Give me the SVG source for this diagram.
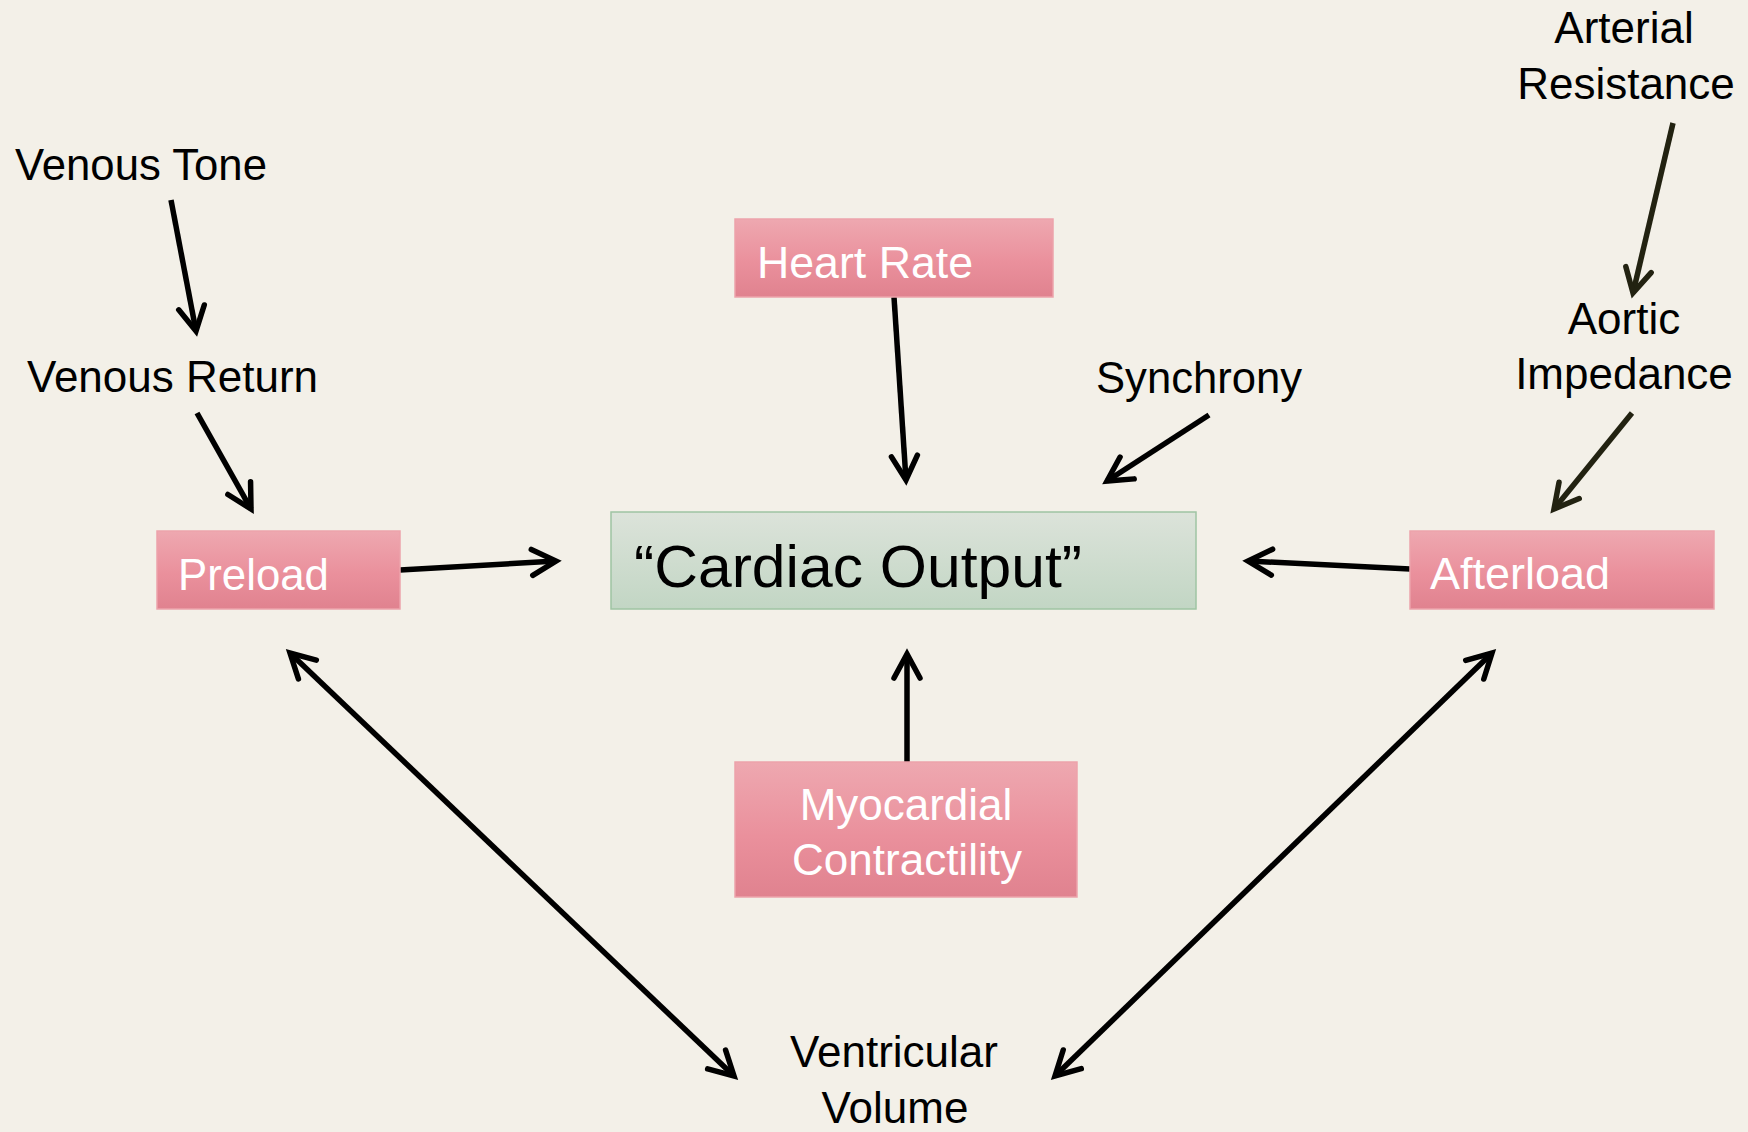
<svg xmlns="http://www.w3.org/2000/svg" width="1748" height="1132" viewBox="0 0 1748 1132">
<defs>
<linearGradient id="pink" x1="0" y1="0" x2="0" y2="1">
<stop offset="0" stop-color="#EEA8B0"/>
<stop offset="0.55" stop-color="#EA909C"/>
<stop offset="1" stop-color="#E0828F"/>
</linearGradient>
<linearGradient id="green" x1="0" y1="0" x2="0" y2="1">
<stop offset="0" stop-color="#DCE3DA"/>
<stop offset="1" stop-color="#C2D6C4"/>
</linearGradient>
<marker id="ah" markerUnits="userSpaceOnUse" markerWidth="40" markerHeight="40" viewBox="-30 -20 40 40" refX="0" refY="0" orient="auto-start-reverse" overflow="visible">
<path d="M-24,-13 L0,0 L-24,13" fill="none" stroke="context-stroke" stroke-width="5.5" stroke-linecap="round" stroke-linejoin="miter"/>
</marker>
<marker id="ahk" markerUnits="userSpaceOnUse" markerWidth="40" markerHeight="40" viewBox="-30 -20 40 40" refX="0" refY="0" orient="auto-start-reverse" overflow="visible">
<path d="M-24,-13 L0,0 L-24,13" fill="none" stroke="#000" stroke-width="5.5" stroke-linecap="round" stroke-linejoin="miter"/>
</marker>
<marker id="aho" markerUnits="userSpaceOnUse" markerWidth="40" markerHeight="40" viewBox="-30 -20 40 40" refX="0" refY="0" orient="auto" overflow="visible">
<path d="M-24,-13 L0,0 L-24,13" fill="none" stroke="#222211" stroke-width="5.5" stroke-linecap="round" stroke-linejoin="miter"/>
</marker>
</defs>
<style>
text { font-family: "Liberation Sans", Arial, sans-serif; }
.lbl { font-size: 44px; fill: #000; }
.wt { font-size: 44px; fill: #fff; }
.pbox { fill: url(#pink); stroke: #EDA3AB; stroke-width: 1.5; }
.gbox { fill: url(#green); stroke: #9FC4A3; stroke-width: 1.5; }
.c { fill: none; stroke: #000; stroke-width: 5.5; marker-end: url(#ahk); }
.cb { fill: none; stroke: #000; stroke-width: 5.5; marker-start: url(#ahk); marker-end: url(#ahk); }
.co { fill: none; stroke: #222211; stroke-width: 5.5; marker-end: url(#aho); }
</style>
<rect width="1748" height="1132" fill="#F3F0E8"/>

<g id="connectors">
<line class="c" x1="171" y1="200" x2="196" y2="331"/>
<line class="c" x1="197" y1="413" x2="251" y2="509"/>
<line class="c" x1="400" y1="570" x2="556" y2="561"/>
<line class="c" x1="894" y1="297" x2="906" y2="480"/>
<line class="c" x1="1209" y1="415" x2="1107" y2="481"/>
<line class="co" x1="1673" y1="123" x2="1633" y2="293"/>
<line class="co" x1="1632" y1="413" x2="1554" y2="509"/>
<line class="c" x1="1410" y1="569" x2="1248" y2="561"/>
<line class="c" x1="907" y1="762" x2="907" y2="654"/>
<line class="cb" x1="290" y1="653" x2="734" y2="1076"/>
<line class="cb" x1="1492" y1="653" x2="1055" y2="1076"/>
</g>

<g id="venous-tone"><text class="lbl" x="15" y="180" textLength="252" lengthAdjust="spacingAndGlyphs">Venous Tone</text></g>
<g id="venous-return"><text class="lbl" x="27" y="392" textLength="291" lengthAdjust="spacingAndGlyphs">Venous Return</text></g>
<g id="preload">
<rect class="pbox" x="157" y="531" width="243" height="78"/>
<text class="wt" x="178" y="590" textLength="151" lengthAdjust="spacingAndGlyphs">Preload</text>
</g>
<g id="heart-rate">
<rect class="pbox" x="735" y="219" width="318" height="78"/>
<text class="wt" x="757" y="278" textLength="216" lengthAdjust="spacingAndGlyphs">Heart Rate</text>
</g>
<g id="synchrony"><text class="lbl" x="1096" y="393" textLength="206" lengthAdjust="spacingAndGlyphs">Synchrony</text></g>
<g id="cardiac-output">
<rect class="gbox" x="611" y="512" width="585" height="97"/>
<text x="634" y="587" font-size="60" fill="#000" textLength="448" lengthAdjust="spacingAndGlyphs">“Cardiac Output”</text>
</g>
<g id="arterial-resistance">
<text class="lbl" x="1624" y="43" text-anchor="middle">Arterial</text>
<text class="lbl" x="1626" y="99" text-anchor="middle">Resistance</text>
</g>
<g id="aortic-impedance">
<text class="lbl" x="1624" y="334" text-anchor="middle">Aortic</text>
<text class="lbl" x="1624" y="389" text-anchor="middle">Impedance</text>
</g>
<g id="afterload">
<rect class="pbox" x="1410" y="531" width="304" height="78"/>
<text class="wt" x="1430" y="589" textLength="180" lengthAdjust="spacingAndGlyphs">Afterload</text>
</g>
<g id="myocardial-contractility">
<rect class="pbox" x="735" y="762" width="342" height="135"/>
<text class="wt" x="906" y="820" text-anchor="middle">Myocardial</text>
<text class="wt" x="907" y="875" text-anchor="middle">Contractility</text>
</g>
<g id="ventricular-volume">
<text class="lbl" x="894" y="1067" text-anchor="middle">Ventricular</text>
<text class="lbl" x="895" y="1123" text-anchor="middle">Volume</text>
</g>
</svg>
